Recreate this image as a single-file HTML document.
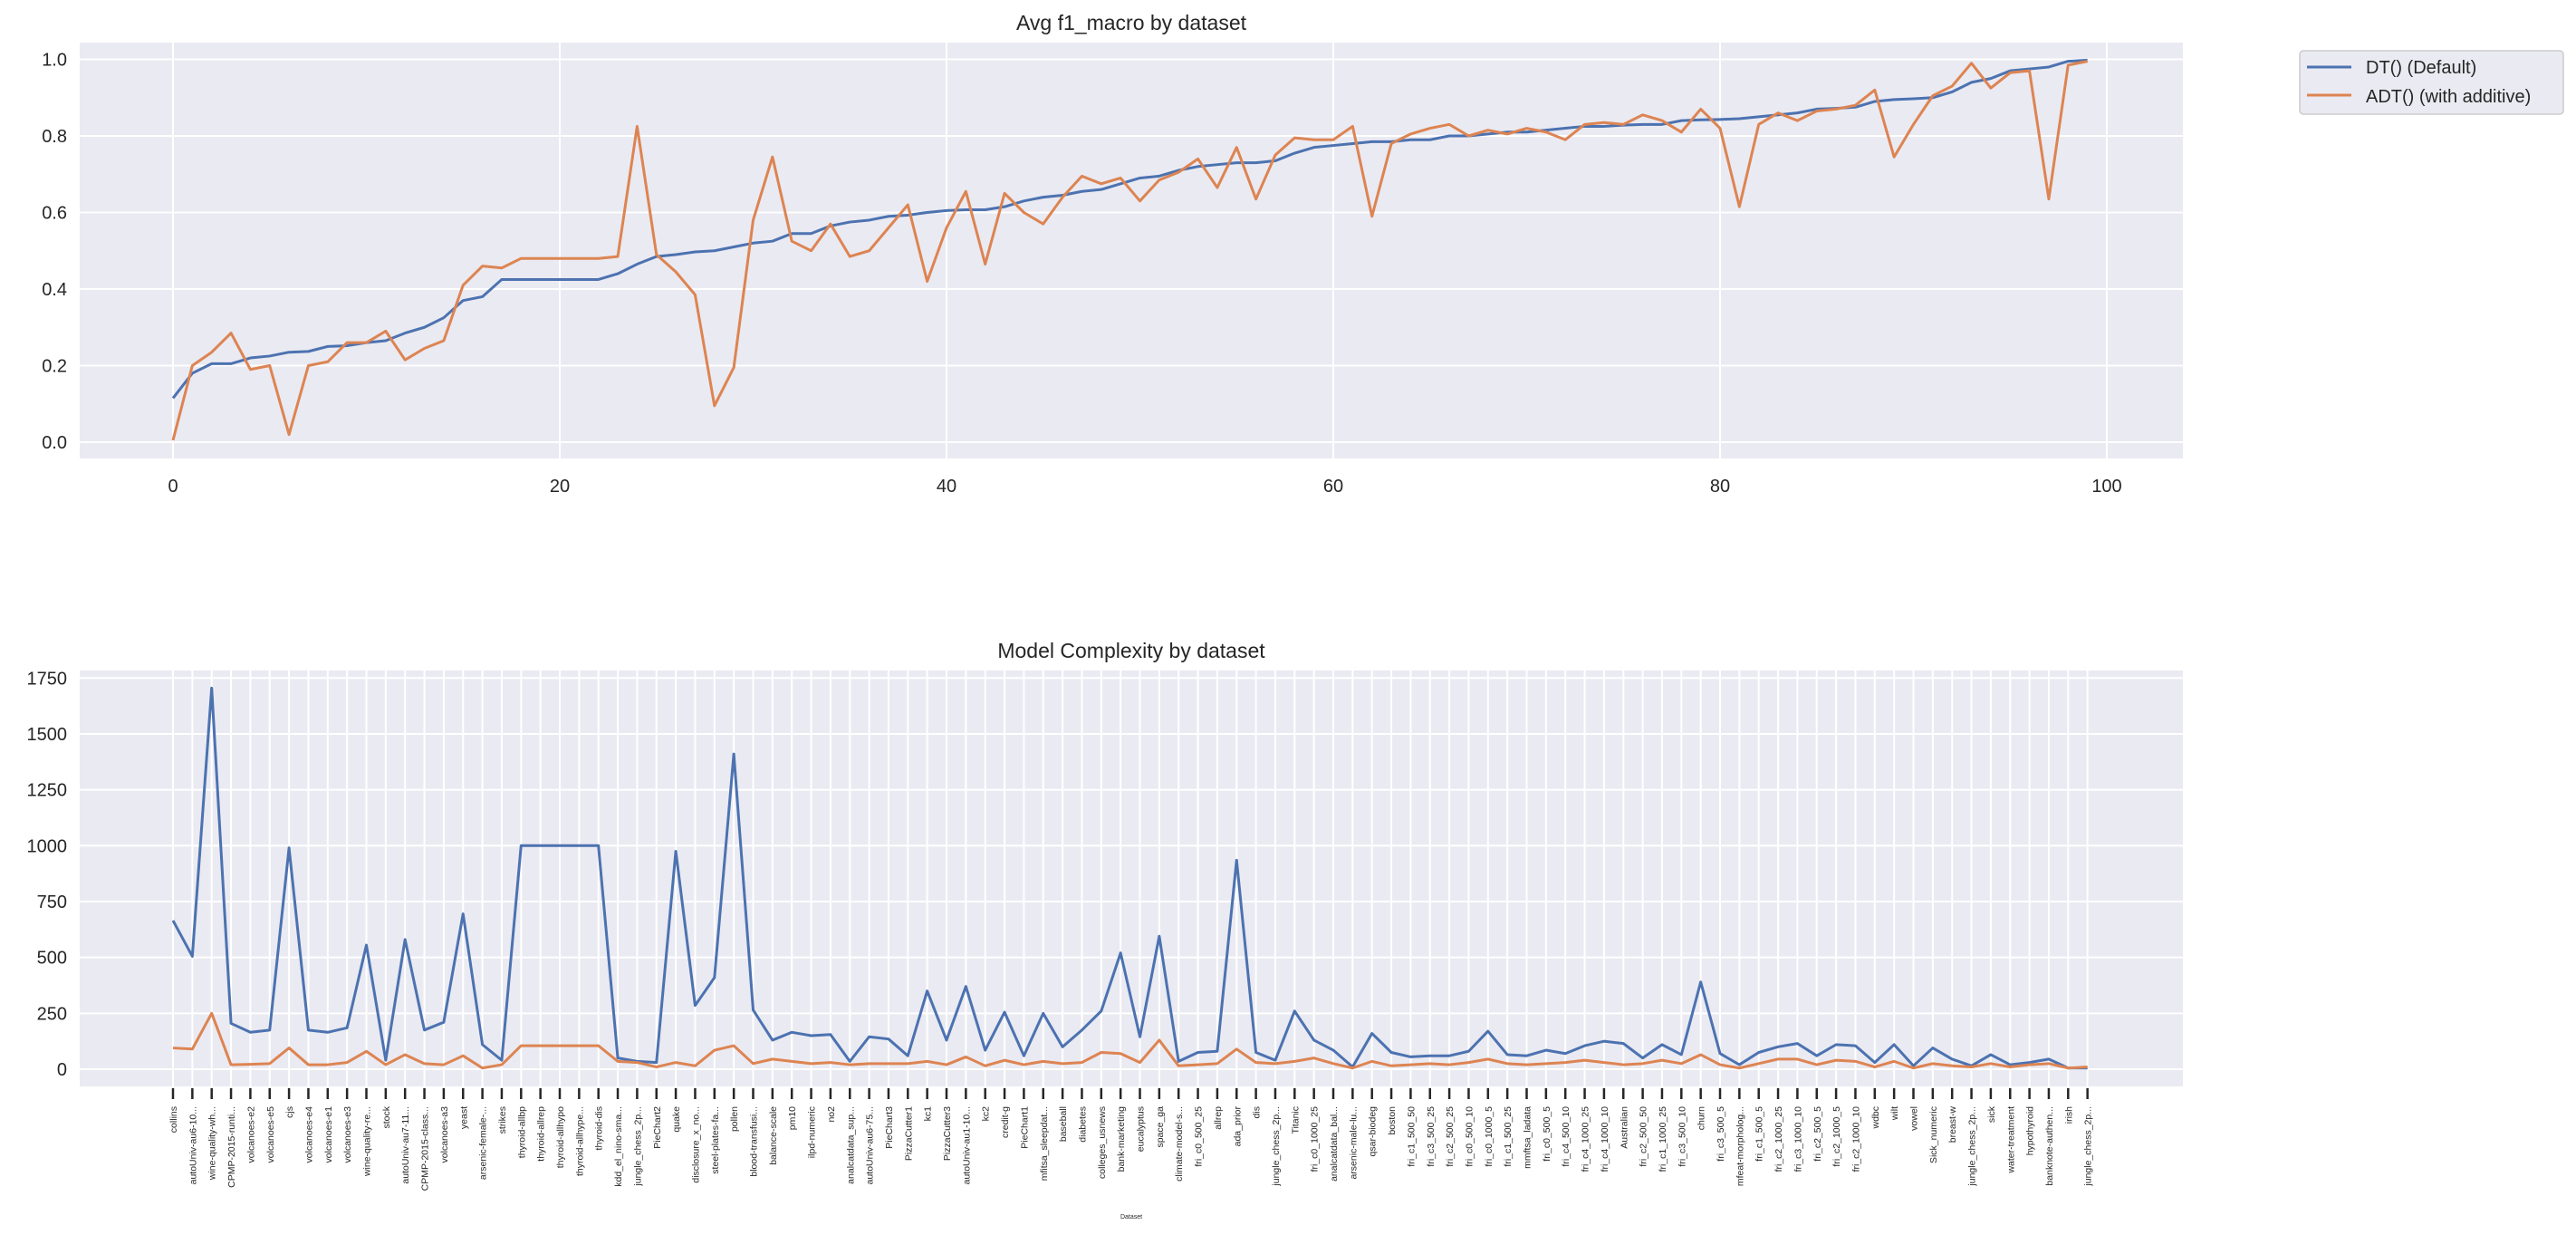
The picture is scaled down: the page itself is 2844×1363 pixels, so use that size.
<!DOCTYPE html>
<html><head><meta charset="utf-8"><style>
html,body{margin:0;padding:0;background:#fff;}
svg{display:block;font-family:"Liberation Sans",Arial,sans-serif;}
</style></head><body>
<svg id="chart" width="2844" height="1363" viewBox="0 0 2844 1363" xmlns="http://www.w3.org/2000/svg">
<text x="1249" y="33" font-size="23" fill="#262626" text-anchor="middle">Avg f1_macro by dataset</text>
<text x="1249" y="726" font-size="23" fill="#262626" text-anchor="middle">Model Complexity by dataset</text>
<text x="1249" y="1345" font-size="7" fill="#262626" text-anchor="middle">Dataset</text>
<g id="topPlot"></g>
<g id="botPlot"></g>
<g>
<rect x="2539" y="56" width="291" height="70" rx="4" fill="#EAEAF2" stroke="#cccccc" stroke-width="1.5"/>
<line x1="2547" y1="74" x2="2596" y2="74" stroke="#4C72B0" stroke-width="3"/>
<text x="2612" y="81" font-size="20" fill="#262626">DT() (Default)</text>
<line x1="2547" y1="105" x2="2596" y2="105" stroke="#DD8452" stroke-width="3"/>
<text x="2612" y="113" font-size="20" fill="#262626">ADT() (with additive)</text>
</g>
</svg>
<script>
const datasets = ["collins","autoUniv-au6-10...","wine-quality-wh...","CPMP-2015-runti...","volcanoes-e2","volcanoes-e5","cjs","volcanoes-e4","volcanoes-e1","volcanoes-e3","wine-quality-re...","stock","autoUniv-au7-11...","CPMP-2015-class...","volcanoes-a3","yeast","arsenic-female-...","strikes","thyroid-allbp","thyroid-allrep","thyroid-allhypo","thyroid-allhype...","thyroid-dis","kdd_el_nino-sma...","jungle_chess_2p...","PieChart2","quake","disclosure_x_no...","steel-plates-fa...","pollen","blood-transfusi...","balance-scale","pm10","ilpd-numeric","no2","analcatdata_sup...","autoUniv-au6-75...","PieChart3","PizzaCutter1","kc1","PizzaCutter3","autoUniv-au1-10...","kc2","credit-g","PieChart1","mfitsa_sleepdat...","baseball","diabetes","colleges_usnews","bank-marketing","eucalyptus","space_ga","climate-model-s...","fri_c0_500_25","allrep","ada_prior","dis","jungle_chess_2p...","Titanic","fri_c0_1000_25","analcatdata_bal...","arsenic-male-lu...","qsar-biodeg","boston","fri_c1_500_50","fri_c3_500_25","fri_c2_500_25","fri_c0_500_10","fri_c0_1000_5","fri_c1_500_25","mmftsa_ladata","fri_c0_500_5","fri_c4_500_10","fri_c4_1000_25","fri_c4_1000_10","Australian","fri_c2_500_50","fri_c1_1000_25","fri_c3_500_10","churn","fri_c3_500_5","mfeat-morpholog...","fri_c1_500_5","fri_c2_1000_25","fri_c3_1000_10","fri_c2_500_5","fri_c2_1000_5","fri_c2_1000_10","wdbc","wilt","vowel","Sick_numeric","breast-w","jungle_chess_2p...","sick","water-treatment","hypothyroid","banknote-authen...","irish","jungle_chess_2p..."];
const f1DT = [0.115,0.18,0.205,0.205,0.22,0.225,0.235,0.237,0.25,0.252,0.26,0.265,0.285,0.30,0.325,0.37,0.38,0.425,0.425,0.425,0.425,0.425,0.425,0.44,0.465,0.485,0.49,0.497,0.50,0.51,0.52,0.525,0.545,0.545,0.565,0.575,0.58,0.59,0.593,0.60,0.605,0.607,0.607,0.615,0.63,0.64,0.645,0.655,0.66,0.675,0.69,0.695,0.71,0.72,0.725,0.73,0.73,0.735,0.755,0.77,0.775,0.78,0.785,0.785,0.79,0.79,0.80,0.80,0.805,0.81,0.81,0.815,0.82,0.825,0.825,0.828,0.83,0.83,0.84,0.842,0.843,0.845,0.85,0.855,0.86,0.87,0.872,0.875,0.89,0.895,0.897,0.90,0.915,0.94,0.95,0.97,0.975,0.98,0.995,0.998];
const f1ADT = [0.005,0.2,0.235,0.285,0.19,0.2,0.02,0.2,0.21,0.26,0.26,0.29,0.215,0.245,0.265,0.41,0.46,0.455,0.48,0.48,0.48,0.48,0.48,0.485,0.825,0.49,0.445,0.385,0.095,0.195,0.58,0.745,0.525,0.5,0.57,0.485,0.5,0.56,0.62,0.42,0.56,0.655,0.465,0.65,0.6,0.57,0.64,0.695,0.675,0.69,0.63,0.685,0.705,0.74,0.665,0.77,0.635,0.75,0.795,0.79,0.79,0.825,0.59,0.78,0.805,0.82,0.83,0.8,0.815,0.805,0.82,0.81,0.79,0.83,0.835,0.83,0.855,0.84,0.81,0.87,0.82,0.615,0.83,0.86,0.84,0.865,0.87,0.88,0.92,0.745,0.83,0.905,0.93,0.99,0.925,0.965,0.97,0.635,0.985,0.995];
const cxDT = [665,505,1705,205,165,175,990,175,165,185,555,40,580,175,210,695,110,40,1000,1000,1000,1000,1000,50,35,30,975,285,410,1410,265,130,165,150,155,35,145,135,60,350,130,370,85,255,60,250,100,175,260,520,145,595,35,75,80,935,75,40,260,130,85,10,160,75,55,60,60,80,170,65,60,85,70,105,125,115,50,110,65,390,70,20,75,100,115,60,110,105,30,110,15,95,45,15,65,20,30,45,5,5];
const cxADT = [95,90,250,20,22,25,95,20,20,30,80,20,65,25,20,60,5,20,105,105,105,105,105,35,30,10,30,15,85,105,25,45,35,25,30,20,25,25,25,35,20,55,15,40,20,35,25,30,75,70,30,130,15,20,25,90,30,25,35,50,25,5,35,15,20,25,20,30,45,25,20,25,30,40,30,20,25,40,25,65,20,5,25,45,45,20,40,35,10,35,5,25,15,10,25,10,20,25,5,10];
const topYTicks = [0.0,0.2,0.4,0.6,0.8,1.0];
const topXTicks = [0,20,40,60,80,100];
const botYTicks = [0,250,500,750,1000,1250,1500,1750];

const NS = "http://www.w3.org/2000/svg";
function mk(parent, tag, attrs){const e=document.createElementNS(NS,tag);for(const k in attrs)e.setAttribute(k,attrs[k]);parent.appendChild(e);return e;}
const PL=88,PR=2410;
const xS = i => 191 + i*21.35;
const yTop = v => 488 - v*422.5;
const yBot = v => 1180 - v*0.2467;

const topG=document.getElementById('topPlot');
let r=mk(topG,'rect',{x:PL,y:47,width:PR-PL,height:459,fill:'#EAEAF2'});


topYTicks.forEach(t=>{
  const g=mk(topG,'line',{x1:PL,x2:PR,y1:yTop(t),y2:yTop(t),stroke:'#fff','stroke-width':2});
  
  
  const tx=mk(topG,'text',{x:74,y:yTop(t)+7,'font-size':20,fill:'#262626','text-anchor':'end'});
  tx.textContent=t.toFixed(1);
  
  
});
topXTicks.forEach(t=>{
  const g=mk(topG,'line',{x1:xS(t),x2:xS(t),y1:47,y2:506,stroke:'#fff','stroke-width':2});
  
  
  const tx=mk(topG,'text',{x:xS(t),y:543,'font-size':20,fill:'#262626','text-anchor':'middle'});
  tx.textContent=t;
  
  
});
function series(parent,vals,ys,color,name){
  const p=mk(parent,'polyline',{points:vals.map((v,i)=>xS(i)+','+ys(v)).join(' '),fill:'none',stroke:color,'stroke-width':3,'stroke-linejoin':'round'});
  
  
}
series(topG,f1DT,yTop,'#4C72B0','dt-f1-line');
series(topG,f1ADT,yTop,'#DD8452','adt-f1-line');

const botG=document.getElementById('botPlot');
r=mk(botG,'rect',{x:PL,y:740,width:PR-PL,height:459,fill:'#EAEAF2'});


botYTicks.forEach(t=>{
  const g=mk(botG,'line',{x1:PL,x2:PR,y1:yBot(t),y2:yBot(t),stroke:'#fff','stroke-width':2});
  
  
  const tx=mk(botG,'text',{x:74,y:yBot(t)+7,'font-size':20,fill:'#262626','text-anchor':'end'});
  tx.textContent=t;
  
  
});
datasets.forEach((d,i)=>{
  const x=xS(i);
  const g=mk(botG,'line',{x1:x,x2:x,y1:740,y2:1199,stroke:'#fff','stroke-width':2});
  
  
  const tk=mk(botG,'line',{x1:x,x2:x,y1:1201,y2:1213,stroke:'#262626','stroke-width':2.5});
  
  
  const tx=mk(botG,'text',{x:0,y:0,'font-size':10.5,fill:'#262626','text-anchor':'end',transform:'translate('+(x+4)+',1221) rotate(-90)'});
  tx.textContent=d;
  
  
});
series(botG,cxDT,yBot,'#4C72B0','dt-complexity-line');
series(botG,cxADT,yBot,'#DD8452','adt-complexity-line');
</script>
</body></html>
